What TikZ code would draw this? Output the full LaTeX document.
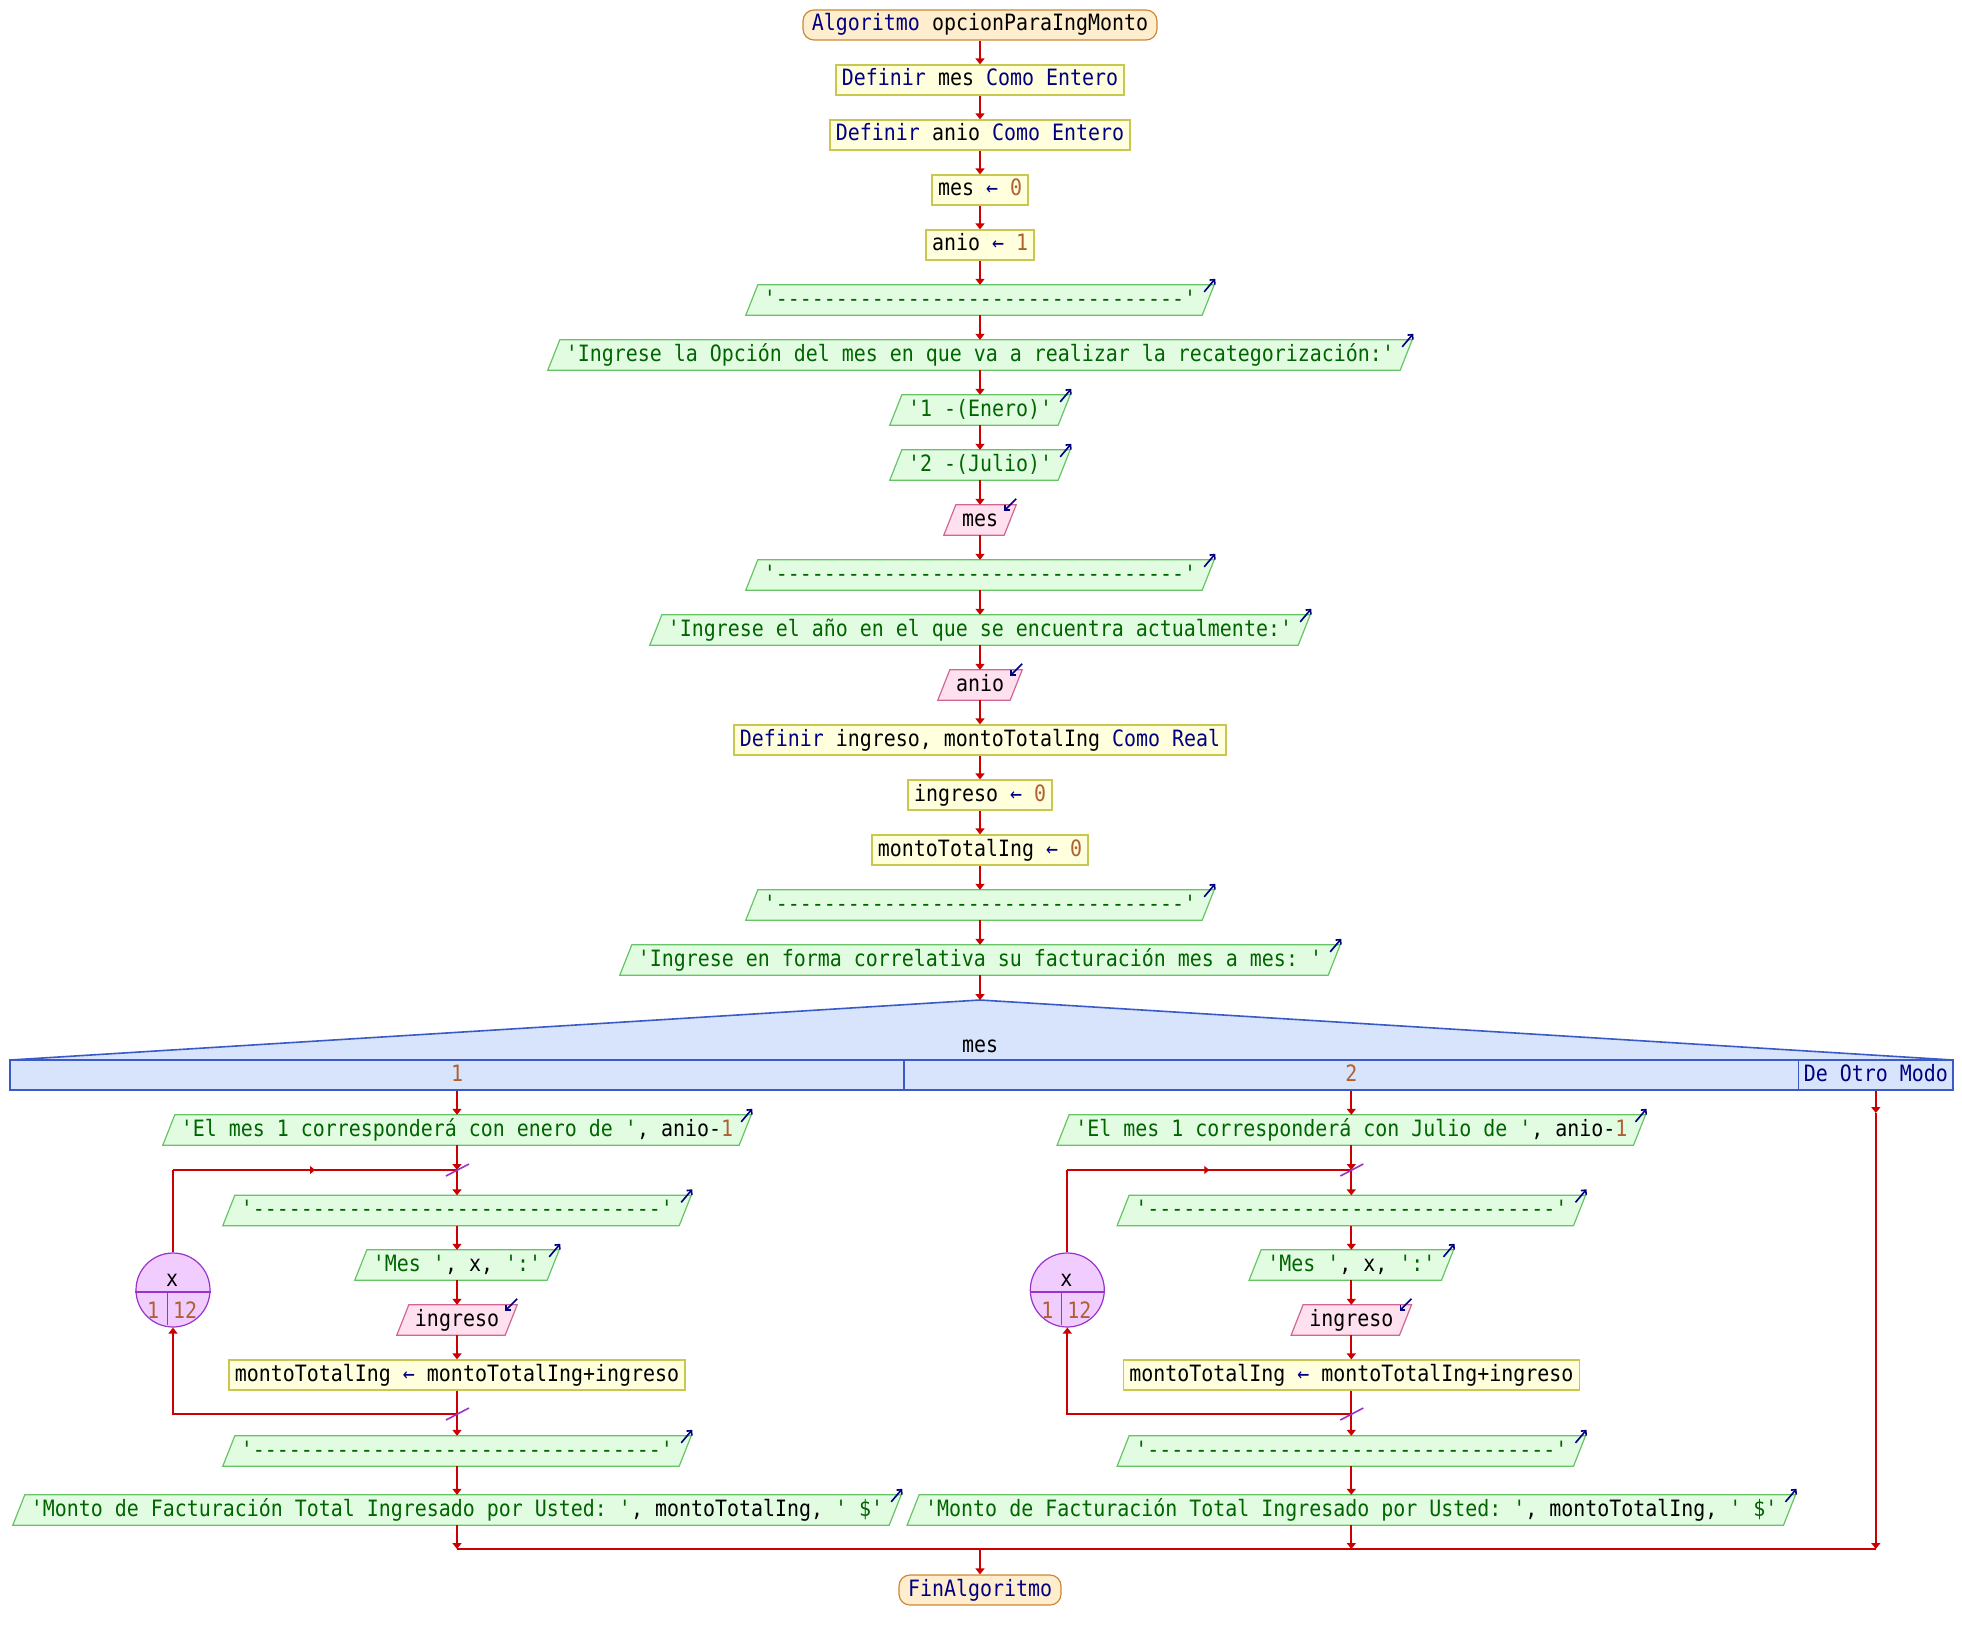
\documentclass[tikz,border=0pt]{standalone}
\usepackage{fontspec}
\setmonofont{DejaVu Sans Mono}[FakeStretch=0.886]
\usetikzlibrary{arrows.meta,backgrounds,decorations.markings,calc}

\definecolor{termfill}{RGB}{255,238,206}
\definecolor{termline}{RGB}{204,136,51}
\definecolor{procfill}{RGB}{255,255,221}
\definecolor{procline}{RGB}{200,200,80}
\definecolor{outfill}{RGB}{226,252,226}
\definecolor{outline}{RGB}{102,196,102}
\definecolor{infill}{RGB}{255,224,238}
\definecolor{inline}{RGB}{210,100,150}
\definecolor{swfill}{RGB}{216,228,252}
\definecolor{swline}{RGB}{58,90,200}
\definecolor{loopfill}{RGB}{240,204,255}
\definecolor{loopline}{RGB}{153,51,204}
\definecolor{flowred}{RGB}{204,0,0}
\definecolor{kwnavy}{RGB}{0,0,128}
\definecolor{strgreen}{RGB}{0,100,0}
\definecolor{numbrown}{RGB}{176,96,48}

\newcommand\pfont{\ttfamily\fontsize{22.5}{26}\selectfont\frenchspacing}
\newcommand\pkw[1]{\textcolor{kwnavy}{#1}}
\newcommand\pst[1]{\textcolor{strgreen}{#1}}
\newcommand\pnm[1]{\textcolor{numbrown}{#1}}
\newcommand\pas{\textcolor{kwnavy}{←}}
\newcommand\dashline{\pst{'----------------------------------'}}

% output block: parallelogram leaning right, with the write marker
\newcommand\outnode[5]{%
  \node[pse, minimum width=#4pt] (#1) at (#2,#3) {#5};
  \begin{pgfonlayer}{background}
    \path[outshape] ([xshift=-6pt]#1.south west) -- ([xshift=-6pt]#1.south east)
      -- ([xshift=6pt]#1.north east) -- ([xshift=6pt]#1.north west) -- cycle;
  \end{pgfonlayer}
  \draw[icon] ([shift={(-4pt,-7pt)}]#1.north east) -- ([shift={(7pt,6pt)}]#1.north east);
}
% input block: pink parallelogram, with the read marker
\newcommand\innode[5]{%
  \node[pse, minimum width=#4pt] (#1) at (#2,#3) {#5};
  \begin{pgfonlayer}{background}
    \path[inshape] ([xshift=-6pt]#1.south west) -- ([xshift=-6pt]#1.south east)
      -- ([xshift=6pt]#1.north east) -- ([xshift=6pt]#1.north west) -- cycle;
  \end{pgfonlayer}
  \draw[icon] ([shift={(6pt,6pt)}]#1.north east) -- ([shift={(-6pt,-6pt)}]#1.north east);
}

% one case of the switch: message, counted loop, totals
\newcommand\casebranch[3]{%
  \outnode{#1a}{#2}{1130}{576}{#3}
  \coordinate (#1jt) at (#2,1170);
  \outnode{#1d}{#2}{1210.5}{456}{\dashline}
  \outnode{#1m}{#2}{1265}{192}{\pst{'Mes '}, x, \pst{':'}}
  \innode{#1i}{#2}{1320}{108}{ingreso}
  \node[proc, minimum width=456pt] (#1s) at (#2,1375) {montoTotalIng \pas{} montoTotalIng+ingreso};
  \coordinate (#1jb) at (#2,1414);
  \outnode{#1e}{#2}{1451}{456}{\dashline}
  \outnode{#1f}{#2}{1510}{876}{\pst{'Monto de Facturación Total Ingresado por Usted: '}, montoTotalIng, \pst{' \$'}}
  \coordinate (#1g) at (#2,1549);
  % loop counter
  \node[loopc] (#1L) at ({#2-284},1290) {};
  \draw[loopline, line width=1.2pt] ([yshift=-2pt]#1L.west) -- ([yshift=-2pt]#1L.east);
  \draw[loopline, line width=1.2pt] ([shift={(-5.7pt,-2pt)}]#1L.center) -- ([shift={(-5.7pt,-35pt)}]#1L.center);
  \node[pse] (#1Lv) at ({#2-285},1280) {x};
  \node[pse] (#1Lf) at ({#2-304},1312) {\pnm{1}};
  \node[pse] (#1Lt) at ({#2-272},1312) {\pnm{12}};
  % connectors
  \draw[flow] (#1a.south) -- (#1jt);
  \draw[flow] (#1jt) -- (#1d.north);
  \draw[flow] (#1d.south) -- (#1m.north);
  \draw[flow] (#1m.south) -- (#1i.north);
  \draw[flow] (#1i.south) -- (#1s.north);
  \draw[wire] (#1s.south) -- (#1jb);
  \draw[wire] (#1L.north) -- (#1L.north |- #1jt);
  \draw[wire, midarrow] (#1L.north |- #1jt) -- (#1jt);
  \draw[flow] (#1jb) -| (#1L.south);
  \draw[flow] (#1jb) -- (#1e.north);
  \draw[flow] (#1e.south) -- (#1f.north);
  \draw[flow] (#1f.south) -- (#1g);
  \draw[slash] ([shift={(-11pt,-6pt)}]#1jt) -- ([shift={(12pt,6pt)}]#1jt);
  \draw[slash] ([shift={(-11pt,-6pt)}]#1jb) -- ([shift={(12pt,6pt)}]#1jb);
}

\begin{document}
\begin{tikzpicture}[x=1pt, y=-1pt,
  pse/.style={font=\pfont, inner sep=0pt, minimum height=30pt, text height=16pt, text depth=4pt},
  proc/.style={pse, draw=procline, fill=procfill, line width=1.2pt},
  term/.style={pse, draw=termline, fill=termfill, rounded corners=11pt, line width=1.2pt},
  outshape/.style={draw=outline, fill=outfill, line width=1.2pt},
  inshape/.style={draw=inline, fill=infill, line width=1.2pt},
  swcell/.style={pse, draw=swline, fill=swfill, line width=1.6pt},
  loopc/.style={circle, minimum size=74pt, inner sep=0pt, draw=loopline, fill=loopfill, line width=1.2pt},
  wire/.style={color=flowred, line width=2pt},
  flow/.style={wire, -{Triangle[length=6pt,width=9pt]}},
  midarrow/.style={postaction={decorate}, decoration={markings,
      mark=at position 0.5 with {\arrow{Triangle[length=5pt,width=8pt]}}}},
  icon/.style={draw=kwnavy, line width=1.6pt, -{Straight Barb[length=3.5pt,width=7pt]}},
  slash/.style={draw=loopline, line width=1.6pt}]

\useasboundingbox (0,0) rectangle (1962,1640);

% main sequence
\node[term, minimum width=354pt] (n0) at (980,25) {\pkw{Algoritmo} opcionParaIngMonto};
\node[proc, minimum width=288pt] (n1) at (980,80) {\pkw{Definir} mes \pkw{Como Entero}};
\node[proc, minimum width=300pt] (n2) at (980,135) {\pkw{Definir} anio \pkw{Como Entero}};
\node[proc, minimum width=96pt] (n3) at (980,190) {mes \pas{} \pnm{0}};
\node[proc, minimum width=108pt] (n4) at (980,245) {anio \pas{} \pnm{1}};
\outnode{n5}{980}{300}{456}{\dashline}
\outnode{n6}{980}{355}{852}{\pst{'Ingrese la Opción del mes en que va a realizar la recategorización:'}}
\outnode{n7}{980}{410}{168}{\pst{'1 -(Enero)'}}
\outnode{n8}{980}{465}{168}{\pst{'2 -(Julio)'}}
\innode{n9}{980}{520}{60}{mes}
\outnode{n10}{980}{575}{456}{\dashline}
\outnode{n11}{980}{630}{648}{\pst{'Ingrese el año en el que se encuentra actualmente:'}}
\innode{n12}{980}{685}{72}{anio}
\node[proc, minimum width=492pt] (n13) at (980,740) {\pkw{Definir} ingreso, montoTotalIng \pkw{Como Real}};
\node[proc, minimum width=144pt] (n14) at (980,795) {ingreso \pas{} \pnm{0}};
\node[proc, minimum width=216pt] (n15) at (980,850) {montoTotalIng \pas{} \pnm{0}};
\outnode{n16}{980}{905}{456}{\dashline}
\outnode{n17}{980}{960}{708}{\pst{'Ingrese en forma correlativa su facturación mes a mes: '}}

\foreach \a/\b in {n0/n1,n1/n2,n2/n3,n3/n4,n4/n5,n5/n6,n6/n7,n7/n8,n8/n9,
                   n9/n10,n10/n11,n11/n12,n12/n13,n13/n14,n14/n15,n15/n16,n16/n17}
  \draw[flow] (\a.south) -- (\b.north);

% switch on mes
\coordinate (sw) at (980,1000);
\path[draw=swline, fill=swfill, line width=1.6pt] (10,1060) -- (sw) -- (1953,1060) -- cycle;
\node[pse] (swl) at (980,1046) {mes};
\node[swcell, minimum width=894pt] (c1) at (457,1075) {\pnm{1}};
\node[swcell, minimum width=894.6pt] (c2) at (1351.3,1075) {\pnm{2}};
\node[swcell, minimum width=154.4pt] (c3) at (1875.8,1075) {\pkw{De Otro Modo}};
\draw[flow] (n17.south) -- (sw);

\casebranch{p}{457}{\pst{'El mes 1 corresponderá con enero de '}, anio-\pnm{1}}
\casebranch{q}{1351.3}{\pst{'El mes 1 corresponderá con Julio de '}, anio-\pnm{1}}
\draw[flow] (c1.south) -- (pa.north);
\draw[flow] (c2.south) -- (qa.north);

% default case and merge
\coordinate (re) at (1875.8,1113);
\coordinate (rg) at (1875.8,1549);
\coordinate (mg) at (980,1549);
\draw[flow] (c3.south) -- (re);
\draw[flow] (re) -- (rg);
\draw[wire] (pg) -- (rg);

\node[term, minimum width=162pt] (fin) at (980,1590) {\pkw{FinAlgoritmo}};
\draw[flow] (mg) -- (fin.north);
\end{tikzpicture}
\end{document}
